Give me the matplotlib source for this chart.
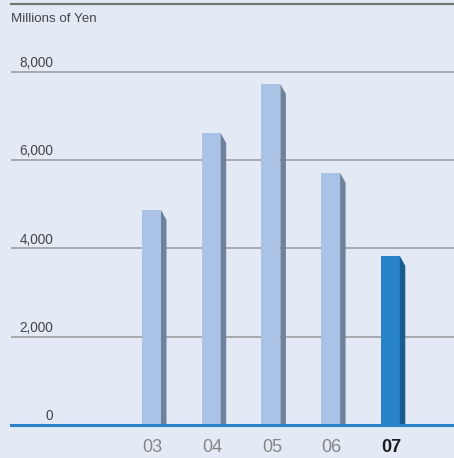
import matplotlib
matplotlib.use("Agg")
import matplotlib.pyplot as plt
from matplotlib.patches import Polygon
from matplotlib.transforms import blended_transform_factory
from matplotlib import font_manager

years = ["03", "04", "05", "06", "07"]
values = [4870, 6610, 7720, 5710, 3830]
yticks = [0, 2000, 4000, 6000, 8000]
unit_label = "Millions of Yen"

BG = "#E3EAF5"
FRONT = "#A9C2E6"
SIDE = "#6F829C"
FRONT_HI = "#2983C8"
SIDE_HI = "#1B5C8E"

names = {f.name for f in font_manager.fontManager.ttflist}
narrow = "Liberation Sans Narrow" if "Liberation Sans Narrow" in names else "Liberation Sans"

W, H = 454, 458
fig = plt.figure(figsize=(W / 100, H / 100), dpi=100, facecolor=BG)
# axes spans px x 11..454, y 4..425 (zero line at 425)
ax = fig.add_axes([11 / W, (H - 425) / H, 443 / W, 421 / H])
ax.set_facecolor(BG)
for s in ax.spines.values():
    s.set_visible(False)
ax.set_xticks([])
ax.set_yticks([])

px_per_unit = 59.7
ax.set_xlim((11 - 151.5) / px_per_unit, (454 - 151.5) / px_per_unit)
ymax = 421 / 353.3 * 8000
ax.set_ylim(0, ymax)

trans = blended_transform_factory(ax.transAxes, ax.transData)

# gridlines and value labels
for t in yticks:
    if t > 0:
        ax.axhline(t, color="#A2A4A6", lw=1.3, zorder=1)
    ax.text((53 - 11) / 443, t + 40, f"{t:,}", transform=trans,
            ha="right", va="bottom", fontsize=9.8, color="#444444",
            family="Liberation Sans")

ax.text(0, (425 - 19) / 421 * ymax, unit_label, transform=trans,
        ha="left", va="center", fontsize=9.6, color="#444444",
        family="Liberation Sans")

# top rule
ax.axhline(ymax * 0.999, color="#6E7670", lw=1.6, zorder=3, clip_on=False)

front_w = 19 / px_per_unit
side_w = 5.5 / px_per_unit
drop = 10 * ymax / 421

for i, (yr, v) in enumerate(zip(years, values)):
    last = i == len(years) - 1
    fc = FRONT_HI if last else FRONT
    sc = SIDE_HI if last else SIDE
    x1 = i + front_w / 2
    ax.bar(i, v, width=front_w, color=fc, zorder=2, linewidth=0)
    ax.add_patch(Polygon([(x1, v), (x1 + side_w, v - drop),
                          (x1 + side_w, 0), (x1, 0)],
                         closed=True, facecolor=sc, edgecolor="none",
                         zorder=2))
    ax.text(i + 0.02, -22 / 421 * ymax, yr, ha="center", va="center",
            fontsize=13, family=narrow,
            color="#1E1E1E" if last else "#858585",
            fontweight="bold" if last else "medium", clip_on=False)

# zero baseline
ax.axhline(0, color="#2B84CA", lw=2.2, zorder=4, clip_on=False)

fig.savefig("out.png", dpi=100, facecolor=BG)
